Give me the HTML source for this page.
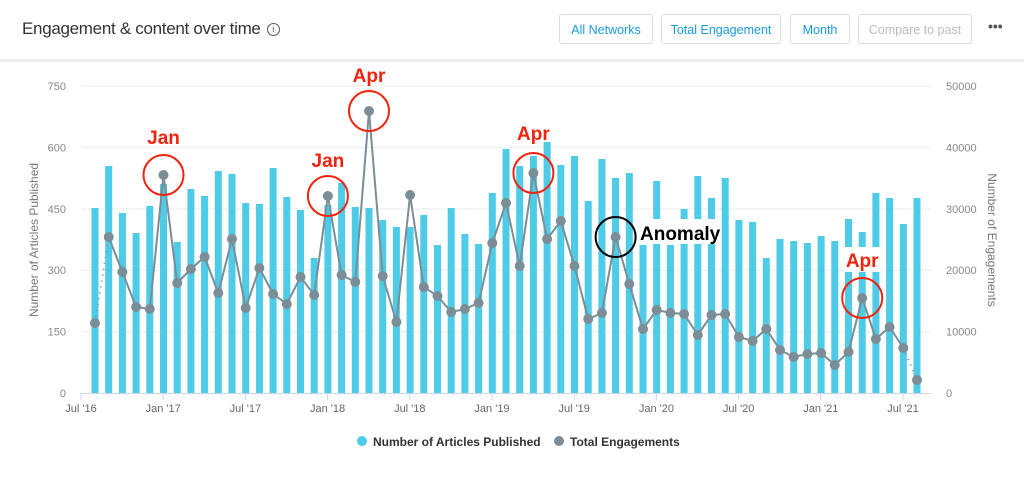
<!DOCTYPE html>
<html><head><meta charset="utf-8"><style>
body{margin:0;width:1024px;height:486px;background:#fff;font-family:"Liberation Sans",sans-serif;overflow:hidden;position:relative}
.title{position:absolute;left:22px;top:19px;font-size:17px;color:#333;letter-spacing:-0.3px}
.info{display:inline-block;width:11px;height:11px;border:1px solid #555;border-radius:50%;font-size:9px;text-align:center;line-height:11px;margin-left:6px;vertical-align:2px;color:#555}
.btn{position:absolute;top:14px;height:30px;border:1px solid #d8dde2;border-radius:3px;font-size:12.5px;color:#1a9be0;line-height:30px;text-align:center;box-sizing:border-box}
.sep{position:absolute;left:0;top:59px;width:1024px;height:3px;background:#eceef0}
</style></head><body>
<div class="title">Engagement &amp; content over time<span class="info">i</span></div>
<div class="btn" style="left:559px;width:94px">All Networks</div>
<div class="btn" style="left:661px;width:120px">Total Engagement</div>
<div class="btn" style="left:790px;width:60px">Month</div>
<div class="btn" style="left:858px;width:114px;color:#bbb">Compare to past</div>
<div style="position:absolute;left:988px;top:18px;font-size:14px;color:#555;font-weight:bold">•••</div>
<div class="sep"></div>
<svg id="c" width="1024" height="486" style="position:absolute;left:0;top:0"></svg>
<script>
var tops=[208,166,213,233,206,184,242,189,196,171,174,203,204,168,197,210,258,205,183,207,208,220,227,227,215,245,208,234,244,193,149,166,156,142,165,156,201,159,178,173,245,181,245,209,176,198,178,220,222,258,239,241,243,236,241,219,232,193,198,224,198];
var pts=[323,237,272,307,309,175,283,269,257,293,239,308,268,294,304,277,295,196,275,282,111,276,322,195,287,296,312,309,303,243,203,266,173,239,221,266,319,313,237,284,329,310,313,314,335,315,314,337,341,329,350,357,354,353,365,352,298,339,327,348,380];
var s='',X=function(i){return 95+i*13.7};
[0,150,300,450,600,750].forEach(function(v,k){var y=393-v*0.4093;
 if(v>0)s+='<line x1="81" x2="931" y1="'+y+'" y2="'+y+'" stroke="#ececec"/>';
 s+='<text x="66" y="'+(y+4)+'" text-anchor="end" font-size="11" fill="#888">'+v+'</text>';
 s+='<text x="946" y="'+(y+4)+'" font-size="11" fill="#888">'+(k*10000)+'</text>';});
s+='<line x1="81" x2="931" y1="393.5" y2="393.5" stroke="#ccd6eb"/>';
var xl=["Jul '16","Jan '17","Jul '17","Jan '18","Jul '18","Jan '19","Jul '19","Jan '20","Jul '20","Jan '21","Jul '21"];
xl.forEach(function(t,k){var x=81+k*82.2;s+='<line x1="'+x+'" x2="'+x+'" y1="393" y2="400" stroke="#ccd6eb"/><text x="'+x+'" y="412" text-anchor="middle" font-size="11" fill="#666">'+t+'</text>';});
tops.forEach(function(t,i){s+='<rect x="'+(X(i)-3.5)+'" y="'+t+'" width="7" height="'+(393-t)+'" fill="#4ecbe6"/>';});
s+='<rect x="638" y="219" width="80" height="25" fill="#fff"/><rect x="845" y="247" width="35" height="25" fill="#fff"/>';
var d='';for(var i=1;i<60;i++)d+=(i==1?'M':'L')+X(i)+' '+pts[i];
s+='<path d="'+d+'" fill="none" stroke="#7b8d96" stroke-width="2"/>';
s+='<line x1="'+X(0)+'" y1="'+pts[0]+'" x2="'+X(1)+'" y2="'+pts[1]+'" stroke="#7b8d96" stroke-width="2" stroke-dasharray="1,5"/>';
s+='<line x1="'+X(59)+'" y1="'+pts[59]+'" x2="'+X(60)+'" y2="'+pts[60]+'" stroke="#7b8d96" stroke-width="2" stroke-dasharray="1,5"/>';
pts.forEach(function(p,i){s+='<circle cx="'+X(i)+'" cy="'+p+'" r="5" fill="#7b8d96"/>';});
function ann(i,t,c,ty,tx){s+='<circle cx="'+X(i)+'" cy="'+pts[i]+'" r="20" fill="none" stroke="'+c+'" stroke-width="2"/>';
 s+='<text x="'+tx+'" y="'+ty+'" text-anchor="middle" font-size="19" font-weight="bold" fill="'+c+'">'+t+'</text>';}
ann(5,'Jan','#f0230c',144,X(5));ann(17,'Jan','#f0230c',167,X(17));ann(20,'Apr','#f0230c',82,X(20));ann(32,'Apr','#f0230c',140,X(32));
ann(56,'Apr','#f0230c',267,X(56));
s+='<circle cx="'+X(38)+'" cy="'+pts[38]+'" r="20" fill="none" stroke="#000" stroke-width="2"/><text x="640" y="240" font-size="19" font-weight="bold" fill="#000">Anomaly</text>';
s+='<text transform="translate(38,240) rotate(-90)" text-anchor="middle" font-size="12" fill="#777">Number of Articles Published</text>';
s+='<text transform="translate(988,240) rotate(90)" text-anchor="middle" font-size="12" fill="#777">Number of Engagements</text>';
s+='<circle cx="362" cy="441" r="5" fill="#4ecbe6"/><text x="373" y="446" font-size="12" font-weight="bold" fill="#333">Number of Articles Published</text>';
s+='<circle cx="559" cy="441" r="5" fill="#7b8d96"/><text x="570" y="446" font-size="12" font-weight="bold" fill="#333">Total Engagements</text>';
document.getElementById('c').innerHTML=s;
</script>
</body></html>
